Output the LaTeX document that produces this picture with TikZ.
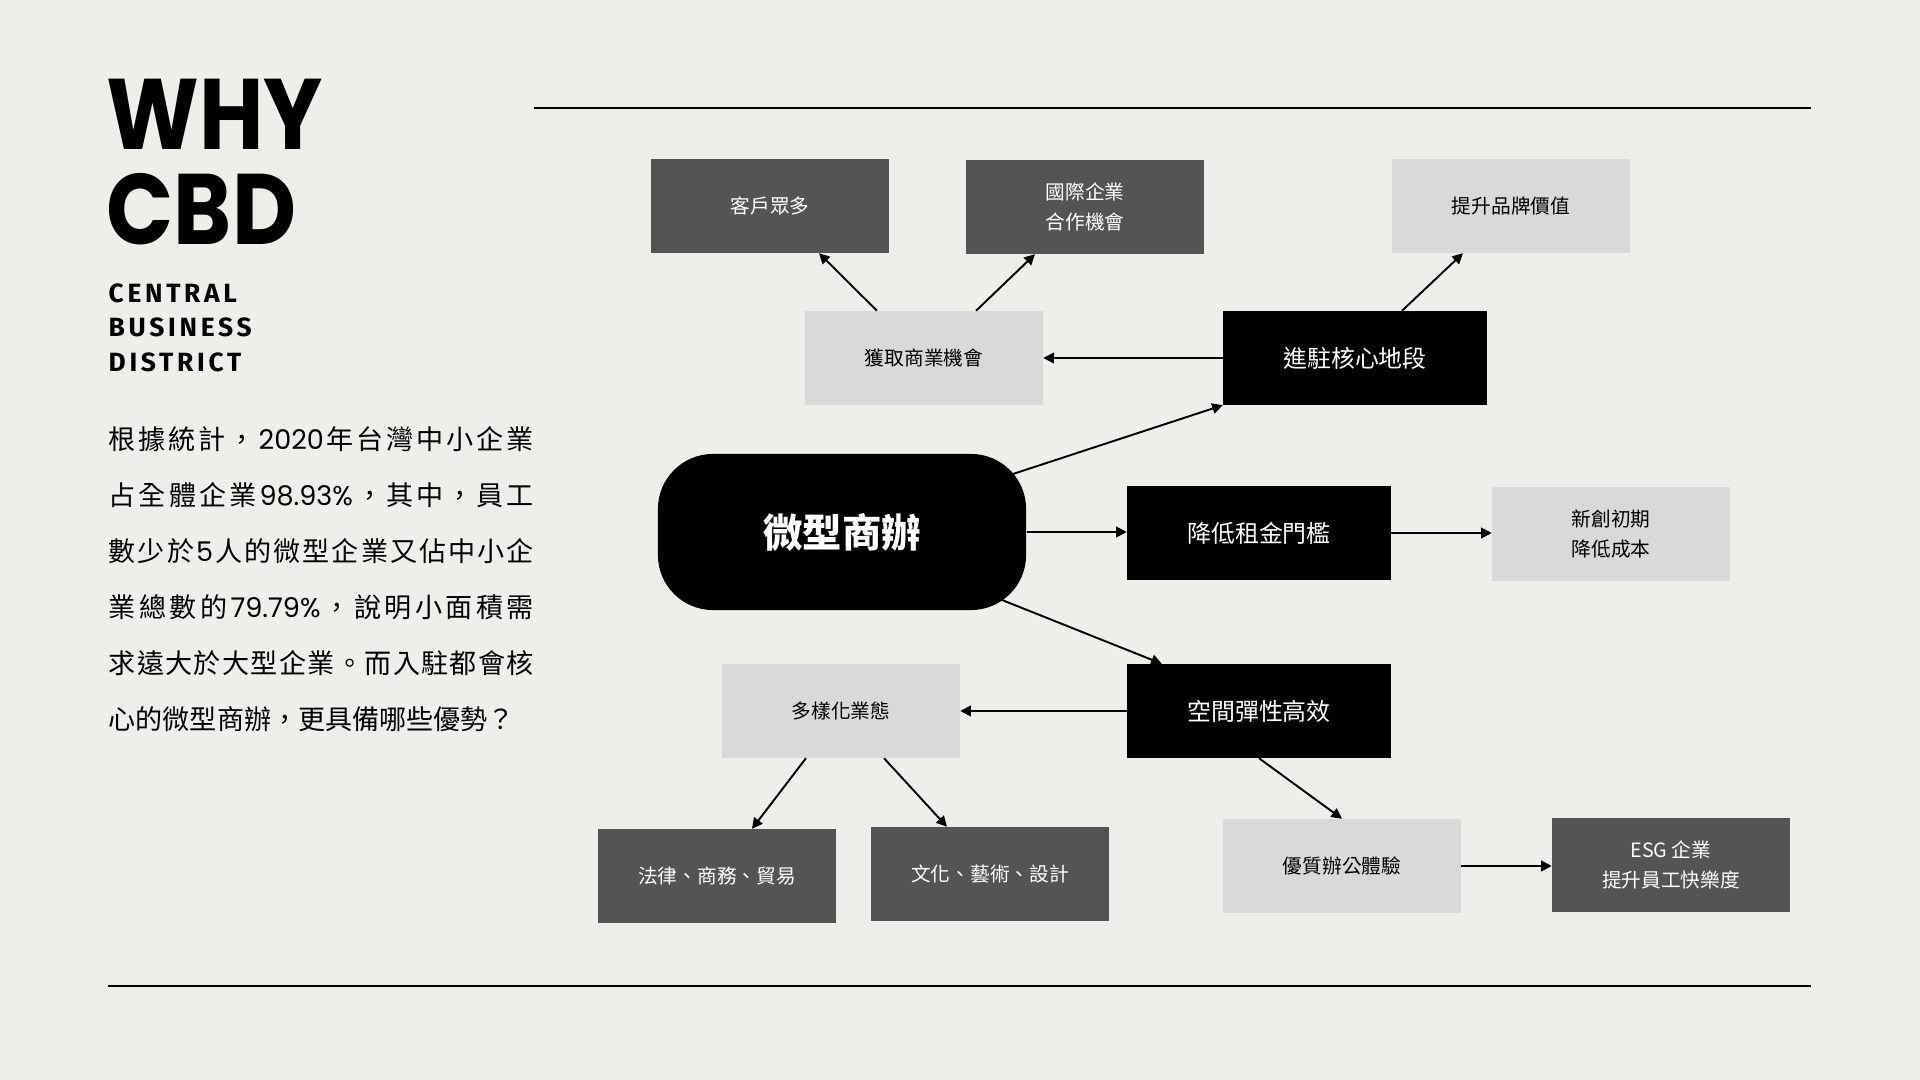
\documentclass[tikz,border=0pt]{standalone}
\usepackage{fontspec}
\setmainfont{Noto Sans CJK TC}
\newfontfamily\poppins{Poppins}
\newfontfamily\titlefont{Poppins}[FakeStretch=0.88]
\newfontfamily\districtfont{Fira Sans}[LetterSpace=14]
\usepackage{tikz}
\usetikzlibrary{positioning,arrows.meta,calc}
\usepackage{xcolor}

\definecolor{paper}{RGB}{239,238,235}
\definecolor{boxdark}{RGB}{84,84,84}
\definecolor{boxlight}{RGB}{217,217,217}

% spread one line of text over the column width
\ExplSyntaxOn
\NewDocumentCommand\spreadline{m}{\makebox[4.25cm][s]{\tl_map_inline:nn{#1}{##1\hfil}\unskip}}
\ExplSyntaxOff

\begin{document}
\begin{tikzpicture}[x=0.01cm,y=-0.01cm,
  darkbox/.style={fill=boxdark,text=white,minimum width=2.37cm,minimum height=0.93cm,align=center,font=\fontsize{5.6}{8.3}\selectfont},
  lightbox/.style={fill=boxlight,text=black,minimum width=2.37cm,minimum height=0.93cm,align=center,font=\fontsize{5.6}{8.3}\selectfont},
  blackbox/.style={fill=black,text=white,minimum width=2.63cm,minimum height=0.93cm,font=\fontsize{6.8}{8}\selectfont},
  hubbox/.style={fill=black,text=white,rounded corners=0.55cm,minimum width=3.68cm,minimum height=1.56cm,font=\bfseries\fontsize{11.2}{12}\selectfont},
  para/.style={anchor=base west,inner sep=0pt,font=\fontsize{7.7}{9}\selectfont},
  link/.style={-{Triangle[length=3pt,width=3pt]},line width=0.55pt}]
\fill[paper] (0,0) rectangle (1920,1080);
\draw[line width=0.6pt] (534,108) -- (1811,108);
\draw[line width=0.7pt] (108,986) -- (1811,986);
% title
\node[anchor=base west,inner sep=0pt,font=\titlefont\bfseries\fontsize{28.5}{30}\selectfont] (why) at (106,150) {WHY};
\node[anchor=base west,inner sep=0pt,font=\titlefont\bfseries\fontsize{28.5}{30}\selectfont] (cbd) at (106,245) {CBD};
\node[anchor=base west,inner sep=0pt,font=\districtfont\bfseries\fontsize{7.5}{9}\selectfont] (cen) at (108,303) {CENTRAL};
\node[anchor=base west,inner sep=0pt,font=\districtfont\bfseries\fontsize{7.5}{9}\selectfont] (bus) at (108,337) {BUSINESS};
\node[anchor=base west,inner sep=0pt,font=\districtfont\bfseries\fontsize{7.5}{9}\selectfont] (dis) at (108,372) {DISTRICT};
% text
\node[para] (p1) at (108,450) {\spreadline{根據統計，{{\poppins 2020}}年台灣中小企業}};
\node[para] (p2) at (108,506) {\spreadline{占全體企業{{\poppins 98.93\%}}，其中，員工}};
\node[para] (p3) at (108,562) {\spreadline{數少於{{\poppins 5}}人的微型企業又佔中小企}};
\node[para] (p4) at (108,618) {\spreadline{業總數的{{\poppins 79.79\%}}，說明小面積需}};
\node[para] (p5) at (108,674) {\spreadline{求遠大於大型企業。而入駐都會核}};
\node[para] (p6) at (108,730) {心的微型商辦，更具備哪些優勢？};
% boxes
\node[darkbox] (cust) at (770,206) {客戶眾多};
\node[darkbox] (intl) at (1085,207) {國際企業\\合作機會};
\node[lightbox] (brand) at (1511,206) {提升品牌價值};
\node[lightbox] (gain) at (924,358) {獲取商業機會};
\node[blackbox] (core) at (1355,358) {進駐核心地段};
\node[hubbox] (hub) at (842,532) {微型商辦};
\node[blackbox] (rent) at (1259,533) {降低租金門檻};
\node[lightbox] (start) at (1611,534) {新創初期\\降低成本};
\node[lightbox] (multi) at (841,711) {多樣化業態};
\node[blackbox] (flex) at (1259,711) {空間彈性高效};
\node[darkbox] (law) at (717,876) {法律、商務、貿易};
\node[darkbox] (art) at (990,874) {文化、藝術、設計};
\node[lightbox] (office) at (1342,866) {優質辦公體驗};
\node[darkbox] (esg) at (1671,865) {ESG 企業\\提升員工快樂度};
% arrows
\draw[link] ([xshift=-0.47cm]gain.north) -- ([xshift=0.49cm]cust.south);
\draw[link] ([xshift=0.52cm]gain.north) -- ([xshift=-0.5cm]intl.south);
\draw[link] (core.west) -- (gain.east);
\draw[link] ([xshift=0.47cm]core.north) -- ([xshift=-0.48cm]brand.south);
\draw[link] ($(hub.center)+(171,-58)$) -- (core.south west);
\draw[link] (hub.east) -- (hub.east -| rent.west);
\draw[link] (rent.east) -- (rent.east -| start.west);
\draw[link] ($(hub.center)+(160,68)$) -- ([xshift=0.35cm]flex.north west);
\draw[link] (flex.west) -- (multi.east);
\draw[link] ([xshift=-0.35cm]multi.south) -- ([xshift=0.35cm]law.north);
\draw[link] ([xshift=0.43cm]multi.south) -- ([xshift=-0.43cm]art.north);
\draw[link] (flex.south) -- (office.north);
\draw[link] (office.east) -- (office.east -| esg.west);
\end{tikzpicture}
\end{document}
